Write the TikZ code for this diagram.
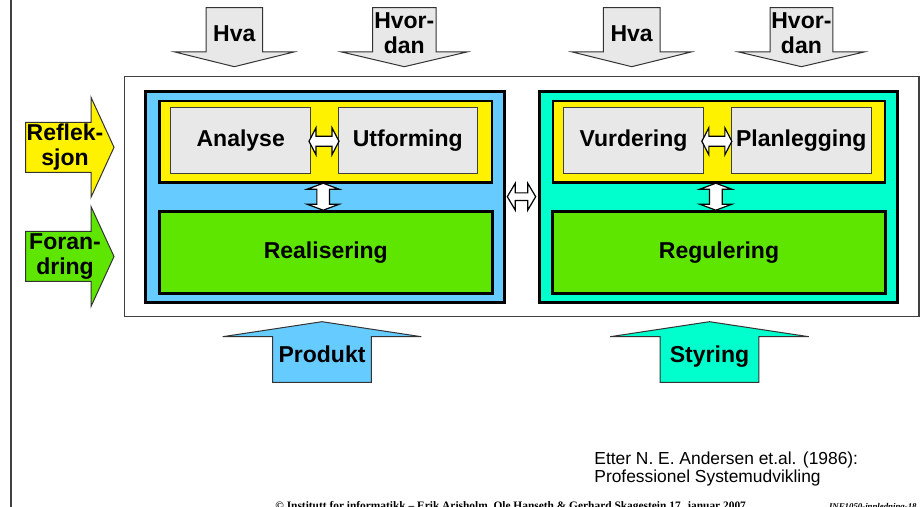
\documentclass[tikz,border=0pt]{standalone}
\usepackage{fontspec}
\setmainfont{Liberation Sans}
\newfontfamily\piefont{Liberation Serif}
\usetikzlibrary{calc}

\tikzset{
    pics/dblarr/.style args={#1/#2/#3/#4}{code={
        \draw[draw=black, line width=0.6pt, fill=white, line join=miter]
            (-#1,0) -- (-#1+#4,#3) -- (-#1+#4,#2) -- (#1-#4,#2) -- (#1-#4,#3) -- (#1,0)
            -- (#1-#4,-#3) -- (#1-#4,-#2) -- (-#1+#4,-#2) -- (-#1+#4,-#3) -- cycle;
    }}
}

\begin{document}
\begin{tikzpicture}[x=0.5pt,y=-0.5pt,
    lbl/.style={font=\fontsize{11.5}{12.5}\selectfont\bfseries, align=center, inner sep=0pt},
    caja/.style={lbl, draw=black!75, line width=0.5pt, fill=lgray},
    marco/.style={draw=black, line width=1.5pt, inner sep=0pt},
    flecha/.style={draw=black!80, line width=0.5pt}]
        %colores
        \definecolor{lblue}{RGB}{102,204,255}
        \definecolor{turq}{RGB}{0,255,204}
        \definecolor{yel}{RGB}{255,242,0}
        \definecolor{grn}{RGB}{94,230,0}
        \definecolor{lgray}{RGB}{232,232,232}

        \useasboundingbox (0,0) rectangle (923,507);

        % linea izquierda
        \draw[black!75, line width=0.8pt] (11,0) -- (11,507);

        % flechas de arriba
        \foreach \c/\w/\h/\t in {234.3/28.2/59.5/Hva, 404.3/31.7/62.6/{Hvor-\\dan},
                                 631.7/28.3/59.4/Hva, 801.4/31.4/62.7/{Hvor-\\dan}}{
            \draw[flecha, fill=lgray] (\c-\w,7.7) -- (\c+\w,7.7) -- (\c+\w,52) -- (\c+\h,52)
                -- (\c,66.7) -- (\c-\h,52) -- (\c-\w,52) -- cycle;
            \node[lbl] at (\c,33.5) {\t};
        }

        % flechas de la izquierda
        \foreach \y/\col/\t in {147.3/yel/{Reflek-\\sjon}, 256.5/grn/{Foran-\\dring}}{
            \draw[flecha, fill=\col] (25.5,\y-25) -- (91,\y-25) -- (91,\y-50) -- (114,\y)
                -- (91,\y+50) -- (91,\y+25) -- (25.5,\y+25) -- cycle;
            \node[lbl] at (65,\y) {\t};
        }

        % flechas de abajo
        \foreach \c/\col/\t in {322/lblue/Produkt, 709.5/turq/Styring}{
            \draw[flecha, fill=\col] (\c-49.3,382.3) -- (\c-49.3,336.7) -- (\c-99.3,336.7)
                -- (\c,321.7) -- (\c+99.3,336.7) -- (\c+49.3,336.7) -- (\c+49.3,382.3) -- cycle;
            \node[lbl, anchor=base] at (\c,362.5) {\t};
        }

        % marco exterior
        \node[draw=black!75, line width=0.6pt, fill=white, minimum width=397.35pt,
            minimum height=120.2pt] (ext) at (521.65,196.5) {};

        % lado izquierdo
        \node[marco, fill=lblue, minimum width=179.15pt, minimum height=105.5pt] (blue) at (324.85,197.2) {};
        \node[marco, line width=1.2pt, fill=yel, minimum width=166.2pt, minimum height=40.85pt] (yelL) at (325.5,141.85) {};
        \node[caja, minimum width=70pt, minimum height=33pt] (ana) at (240.7,140.3) {Analyse};
        \node[caja, minimum width=69.5pt, minimum height=33pt] (utf) at (407.8,140.3) {Utforming};
        \node[marco, lbl, fill=grn, minimum width=166.5pt, minimum height=41.15pt] (real) at (325.8,252.2) {Realisering};

        % lado derecho
        \node[marco, fill=turq, minimum width=179pt, minimum height=105.5pt] (teal) at (718,197.2) {};
        \node[marco, line width=1.2pt, fill=yel, minimum width=166pt, minimum height=40.85pt] (yelR) at (718.7,141.85) {};
        \node[caja, minimum width=69.8pt, minimum height=33pt] (vur) at (633.5,140.3) {Vurdering};
        \node[caja, minimum width=69.8pt, minimum height=33pt] (pla) at (801.2,140.3) {Planlegging};
        \node[marco, lbl, fill=grn, minimum width=166.7pt, minimum height=41.15pt] (regu) at (719,252.2) {Regulering};

        % flechas dobles
        \pic at ($(ana.east)!.5!(utf.west)+(-0.5,1)$) {dblarr=15/5/13.5/7};
        \pic at ($(vur.east)!.5!(pla.west)+(-0.5,1)$) {dblarr=15/5/13.5/7};
        \pic[rotate=90] at ($(yelL.south)!.5!(real.north)+(-2.5,0)$) {dblarr=13.5/6.3/16/6};
        \pic[rotate=90] at ($(yelR.south)!.5!(regu.north)+(-3,0)$) {dblarr=13.5/6.3/16/6};
        \pic at ($(blue.east)!.5!(teal.west)+(0,-0.5)$) {dblarr=14.2/3.8/13.5/8};

        % referencia
        \node[anchor=north west, align=left, inner sep=0pt, font=\fontsize{8.7}{8}\selectfont] (ref) at (594,451)
            {Etter N. E. Andersen et.al. (1986):\\Professionel Systemudvikling};

        % pie de pagina
        \node[anchor=base west, inner sep=0pt, font=\piefont\bfseries\fontsize{5.7}{6}\selectfont] (pie) at (275,510)
            {© Institutt for informatikk – Erik Arisholm, Ole Hanseth \& Gerhard Skagestein 17. januar 2007};
        \node[anchor=base east, inner sep=0pt, font=\piefont\bfseries\itshape\fontsize{4.4}{5}\selectfont] (pie2) at (917,510)
            {INF1050-innledning-18};
    \end{tikzpicture}
\end{document}
